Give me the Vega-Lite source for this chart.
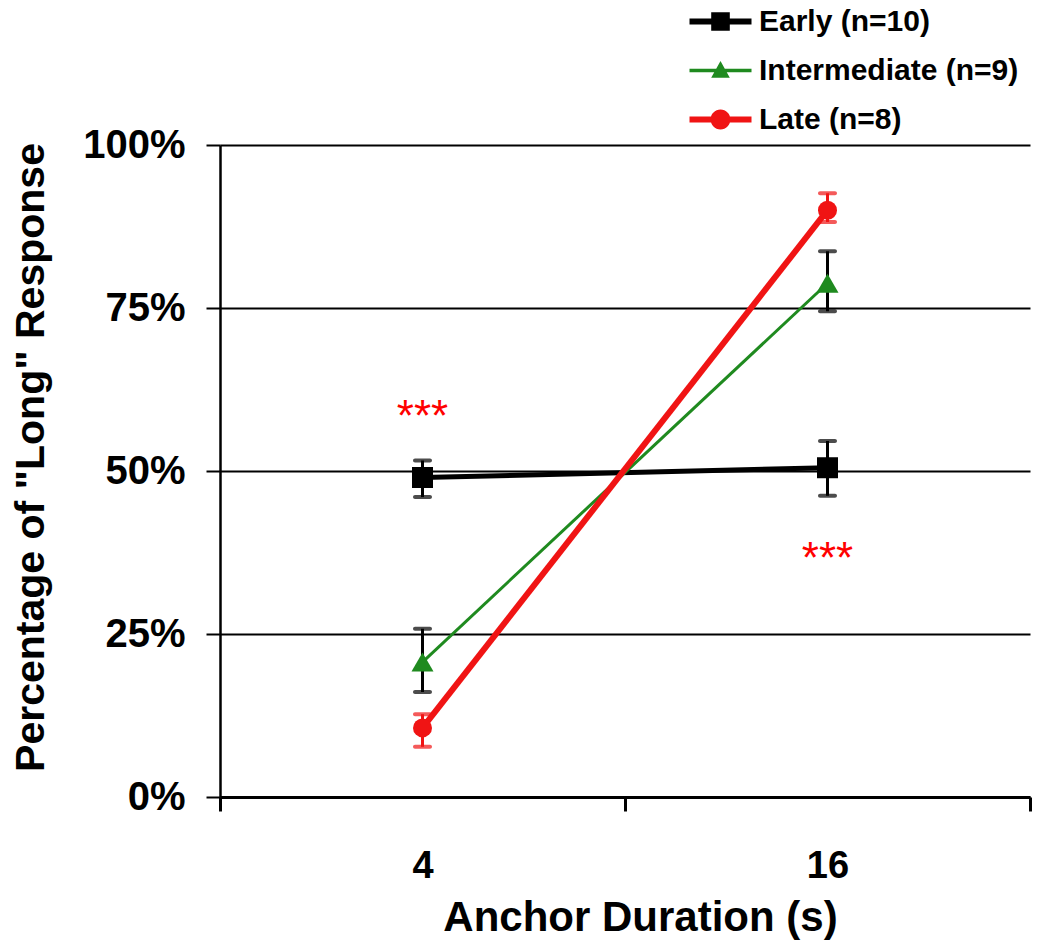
{
  "$schema": "https://vega.github.io/schema/vega-lite/v6.json",
  "width": 810,
  "height": 652,
  "autosize": {"type": "none"},
  "padding": {"left": 220, "top": 145, "right": 17, "bottom": 147},
  "background": "white",
  "config": {
    "view": {"stroke": null},
    "font": "Liberation Sans",
    "axis": {"labelColor": "black", "titleColor": "black", "domainColor": "black", "tickColor": "black"}
  },
  "datasets": {
    "groups": [
      {"group": "Early (n=10)", "duration": 4, "pct": 0.490, "lo": 0.460, "hi": 0.516},
      {"group": "Early (n=10)", "duration": 16, "pct": 0.505, "lo": 0.462, "hi": 0.546},
      {"group": "Intermediate (n=9)", "duration": 4, "pct": 0.207, "lo": 0.161, "hi": 0.258},
      {"group": "Intermediate (n=9)", "duration": 16, "pct": 0.788, "lo": 0.745, "hi": 0.837},
      {"group": "Late (n=8)", "duration": 4, "pct": 0.106, "lo": 0.077, "hi": 0.127},
      {"group": "Late (n=8)", "duration": 16, "pct": 0.900, "lo": 0.882, "hi": 0.926}
    ],
    "stars": [
      {"duration": 4, "pct": 0.582, "label": "***"},
      {"duration": 16, "pct": 0.363, "label": "***"}
    ]
  },
  "encoding": {
    "x": {
      "field": "duration",
      "type": "quantitative",
      "scale": {"type": "log", "base": 2, "domain": [2, 32], "nice": false},
      "axis": {
        "title": "Anchor Duration (s)",
        "values": [2, 4, 8, 16, 32],
        "labelExpr": "datum.value == 4 || datum.value == 16 ? datum.value : ''",
        "tickOpacity": {"condition": {"test": "datum.value == 4 || datum.value == 16", "value": 0}, "value": 1},
        "grid": false,
        "domainWidth": 3,
        "tickSize": 14,
        "tickWidth": 3,
        "labelFontSize": 38,
        "labelFontWeight": "bold",
        "labelPadding": 36,
        "labelFlush": false,
        "labelOverlap": false,
        "titleFontSize": 42,
        "titleFontWeight": "bold",
        "titlePadding": 12,
        "titleX": 420
      }
    },
    "y": {
      "field": "pct",
      "type": "quantitative",
      "scale": {"domain": [0, 1], "nice": false, "zero": true},
      "axis": {
        "title": "Percentage of \"Long\" Response",
        "values": [0, 0.25, 0.5, 0.75, 1],
        "format": ".0%",
        "grid": true,
        "gridColor": "black",
        "gridWidth": 2,
        "gridOpacity": 1,
        "domainWidth": 2.5,
        "tickSize": 14,
        "tickWidth": 2,
        "labelFontSize": 40,
        "labelFontWeight": "bold",
        "labelPadding": 21,
        "titleFontSize": 41,
        "titleFontWeight": "bold",
        "titlePadding": 30,
        "titleY": 312
      }
    }
  },
  "layer": [
    {
      "data": {"name": "groups"},
      "mark": {"type": "rule", "strokeWidth": 3},
      "encoding": {
        "y": {"field": "lo", "type": "quantitative"},
        "y2": {"field": "hi"},
        "color": {"condition": {"test": "datum.group === 'Late (n=8)'", "value": "#f01414"}, "value": "black"}
      }
    },
    {
      "data": {"name": "groups"},
      "mark": {"type": "tick", "orient": "horizontal", "size": 19, "thickness": 4, "cornerRadius": 2},
      "encoding": {
        "y": {"field": "lo", "type": "quantitative"},
        "color": {"condition": {"test": "datum.group === 'Late (n=8)'", "value": "#f01414"}, "value": "black"}
      }
    },
    {
      "data": {"name": "groups"},
      "mark": {"type": "tick", "orient": "horizontal", "size": 19, "thickness": 4, "cornerRadius": 2},
      "encoding": {
        "y": {"field": "hi", "type": "quantitative"},
        "color": {"condition": {"test": "datum.group === 'Late (n=8)'", "value": "#f01414"}, "value": "black"}
      }
    },
    {
      "data": {"name": "groups"},
      "mark": {"type": "line"},
      "encoding": {
        "color": {
          "field": "group", "type": "nominal",
          "scale": {"domain": ["Early (n=10)", "Intermediate (n=9)", "Late (n=8)"], "range": ["#000000", "#1f8a1f", "#f01414"]},
          "legend": null
        },
        "strokeWidth": {
          "field": "group", "type": "nominal",
          "scale": {"type": "ordinal", "domain": ["Early (n=10)", "Intermediate (n=9)", "Late (n=8)"], "range": [5, 3, 6]},
          "legend": null
        }
      }
    },
    {
      "data": {"name": "groups"},
      "mark": {"type": "point", "filled": true, "opacity": 1},
      "encoding": {
        "color": {
          "field": "group", "type": "nominal",
          "scale": {"domain": ["Early (n=10)", "Intermediate (n=9)", "Late (n=8)"], "range": ["#000000", "#1f8a1f", "#f01414"]},
          "legend": null
        },
        "shape": {
          "field": "group", "type": "nominal",
          "scale": {"domain": ["Early (n=10)", "Intermediate (n=9)", "Late (n=8)"], "range": ["square", "triangle-up", "circle"]},
          "legend": null
        },
        "size": {
          "field": "group", "type": "nominal",
          "scale": {"type": "ordinal", "domain": ["Early (n=10)", "Intermediate (n=9)", "Late (n=8)"], "range": [441, 484, 361]},
          "legend": null
        }
      }
    },
    {
      "data": {"name": "stars"},
      "mark": {"type": "text", "color": "#ff0000", "fontSize": 44, "baseline": "middle", "align": "center"},
      "encoding": {"text": {"field": "label"}}
    },
    {
      "data": {"name": "groups"},
      "transform": [{"filter": "false"}],
      "mark": {"type": "point", "filled": true, "opacity": 1, "size": 961},
      "encoding": {
        "x": null,
        "y": null,
        "color": {
          "field": "group", "type": "nominal",
          "scale": {"domain": ["Early (n=10)", "Intermediate (n=9)", "Late (n=8)"], "range": ["#000000", "#1f8a1f", "#f01414"]},
          "legend": {
            "title": null, "orient": "none", "legendX": 485, "legendY": -139, "padding": 0,
            "symbolSize": 961, "symbolStrokeWidth": 0, "labelFontSize": 30, "labelFontWeight": "bold",
            "labelColor": "black", "labelOffset": 23, "rowPadding": 18, "labelLimit": 400
          }
        },
        "shape": {
          "field": "group", "type": "nominal",
          "scale": {
            "domain": ["Early (n=10)", "Intermediate (n=9)", "Late (n=8)"],
            "range": [
              "M-2,-0.19H2V0.19H-2Z M-0.6,-0.6H0.6V0.6H-0.6Z",
              "M-2,-0.12H2V0.12H-2Z M0,-0.62L0.6,0.46L-0.6,0.46Z",
              "M-2,-0.19H2V0.19H-2Z M-0.64,0A0.64,0.64,0,1,1,0.64,0A0.64,0.64,0,1,1,-0.64,0Z"
            ]
          },
          "legend": {
            "title": null, "orient": "none", "legendX": 485, "legendY": -139, "padding": 0,
            "symbolSize": 961, "symbolStrokeWidth": 0, "labelFontSize": 30, "labelFontWeight": "bold",
            "labelColor": "black", "labelOffset": 23, "rowPadding": 18, "labelLimit": 400
          }
        }
      }
    }
  ],
  "resolve": {"scale": {"color": "independent", "shape": "independent", "size": "independent", "strokeWidth": "independent"}}
}
